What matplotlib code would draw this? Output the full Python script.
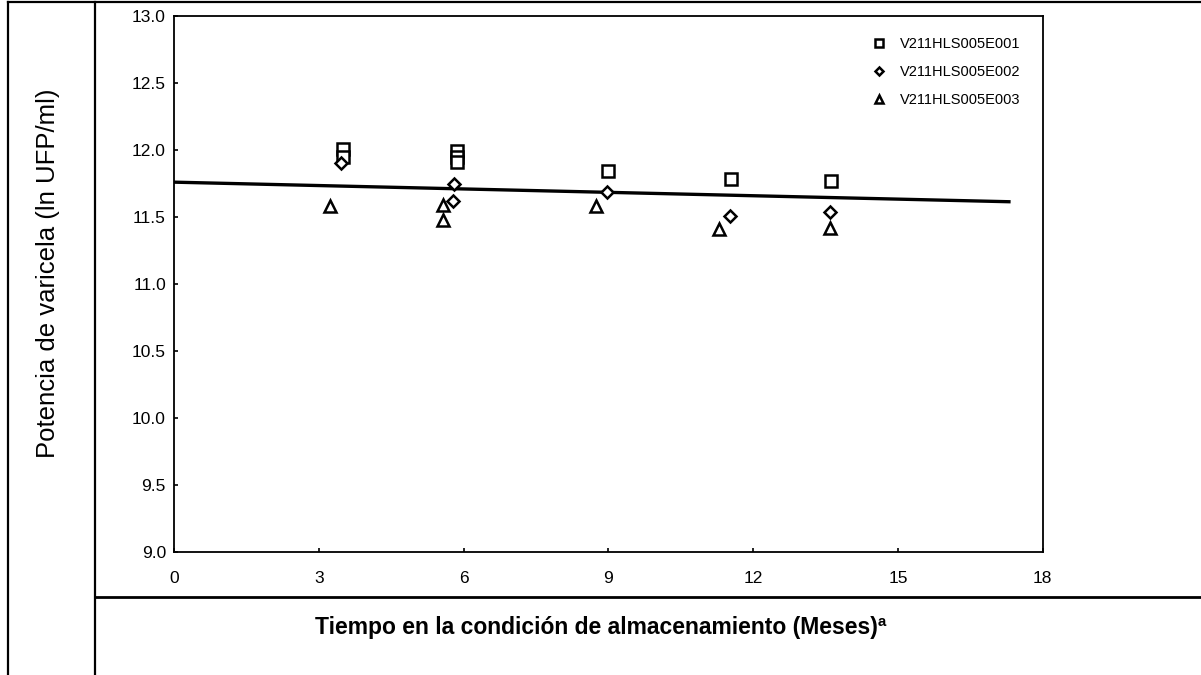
#!/usr/bin/env python3
"""
Varicella potency vs storage time: three lots + regression line.
Saves out.png (1201x675).
"""
import matplotlib
matplotlib.use("Agg")
import matplotlib.pyplot as plt
from matplotlib.lines import Line2D

# ── data ──────────────────────────────────────────────────────
lots = ["V211HLS005E001", "V211HLS005E002", "V211HLS005E003"]
t_e001 = [3.50, 3.50, 5.85, 5.85, 5.85, 8.99, 11.53, 13.62]
v_e001 = [12.01, 11.95, 11.99, 11.95, 11.91, 11.84, 11.78, 11.77]
t_e002 = [3.45, 5.80, 5.78, 8.97, 11.52, 13.60]
v_e002 = [11.905, 11.75, 11.62, 11.69, 11.51, 11.54]
t_e003 = [3.23, 5.58, 5.58, 8.75, 11.29, 13.59]
v_e003 = [11.58, 11.59, 11.48, 11.58, 11.41, 11.42]
fit_t = [0.0, 17.3]
fit_v = [11.76, 11.614]

x_ticks = [0, 3, 6, 9, 12, 15, 18]
y_ticks = [9.0, 9.5, 10.0, 10.5, 11.0, 11.5, 12.0, 12.5, 13.0]

# ── style knobs ───────────────────────────────────────────────
FONT = ["Liberation Sans", "DejaVu Sans"]
plt.rcParams["font.family"] = FONT
MS, MEW = 8, 1.8

fig = plt.figure(figsize=(12.01, 6.75), dpi=100)
ax = fig.add_axes([0.1451, 0.1822, 0.7231, 0.7941])

series = [(t_e001, v_e001, "s"), (t_e002, v_e002, "D"), (t_e003, v_e003, "^")]
for (t, v, m), name in zip(series, lots):
    ax.plot(t, v, ls="none", marker=m, ms=MS if m != "D" else 6,
            mfc="white", mec="black", mew=MEW, label=name, zorder=3)

ax.plot(fit_t, fit_v, color="black", lw=2.4, zorder=2)

ax.set_xlim(0, 18)
ax.set_ylim(9.0, 13.0)
ax.set_xticks(x_ticks)
ax.set_yticks(y_ticks)
ax.set_yticklabels([f"{y:.1f}" for y in y_ticks])
ax.tick_params(direction="in", length=3, width=1.2, labelsize=12.5,
               pad=6)
ax.tick_params(axis="x", pad=14)
for s in ax.spines.values():
    s.set_linewidth(1.3)

leg = ax.legend(loc="upper right", frameon=False, fontsize=10.5,
                handletextpad=0.45, labelspacing=0.95,
                bbox_to_anchor=(0.99, 0.985), markerscale=0.75)

ax.set_ylabel("Potencia de varicela (ln UFP/ml)", fontsize=18.5)
ax.yaxis.set_label_coords(-0.132, 0.52)

fig.text(0.5, 0.071, "Tiempo en la condición de almacenamiento (Meses)ª",
         ha="center", va="center", fontsize=16.5,
         family=["Liberation Sans Narrow", "Liberation Sans"],
         weight="bold")

# ── table frame around the chart ──────────────────────────────
W, H = 1201, 675
def hline(y, x0, x1, lw=1.6):
    fig.add_artist(Line2D([x0 / W, x1 / W], [1 - y / H, 1 - y / H],
                          color="black", lw=lw))
def vline(x, y0, y1, lw=1.6):
    fig.add_artist(Line2D([x / W, x / W], [1 - y0 / H, 1 - y1 / H],
                          color="black", lw=lw))

hline(2, 8, W)
hline(597, 95, W, lw=2)
vline(8, 2, H)
vline(95, 2, H)

fig.savefig("out.png", dpi=100)
